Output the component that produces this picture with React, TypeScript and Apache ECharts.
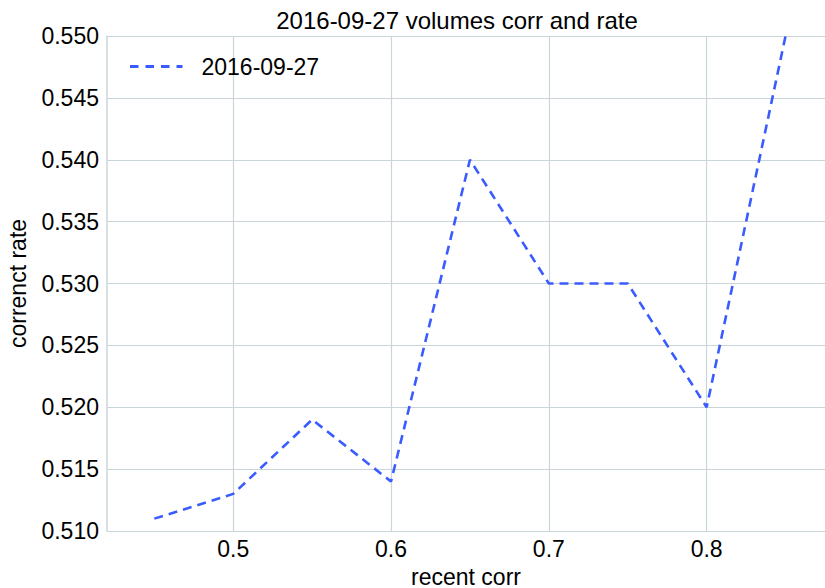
import React, { useEffect, useRef } from "react";
import * as echarts from "echarts";

const xValues = [0.45, 0.5, 0.55, 0.6, 0.65, 0.7, 0.75, 0.8, 0.85];
const rateValues = [0.511, 0.513, 0.519, 0.514, 0.54, 0.53, 0.53, 0.52, 0.55];
const xTicks = [0.5, 0.6, 0.7, 0.8];
const seriesName = "2016-09-27";
const titleText = "2016-09-27 volumes corr and rate";

const FONT = "Liberation Sans, Arial, Helvetica, sans-serif";
const GRID_COLOR = "#cad5da";
const LINE_COLOR = "#3a5cff";
const LEGEND_ICON =
  "path://M0,0h8.5v3h-8.5z M15.5,0h8.5v3h-8.5z M31,0h8.5v3h-8.5z M46.5,0h6v3h-6z";

export default function App() {
  const ref = useRef<HTMLDivElement>(null);
  useEffect(() => {
    if (!ref.current) return;
    const chart = echarts.init(ref.current, undefined, { renderer: "svg" });
    chart.setOption({
      animation: false,
      backgroundColor: "#ffffff",
      textStyle: { fontFamily: FONT },
      title: {
        text: titleText,
        left: 457,
        textAlign: "center",
        top: 8,
        padding: 0,
        textStyle: { fontFamily: FONT, fontSize: 24, fontWeight: "normal", color: "#000" },
      },
      legend: {
        left: 130,
        top: 55,
        padding: 0,
        itemWidth: 52.5,
        itemHeight: 3,
        data: [{ name: seriesName, icon: LEGEND_ICON }],
        itemStyle: { color: LINE_COLOR },
        textStyle: { fontFamily: FONT, fontSize: 23, color: "#000", padding: [0, 0, 0, 14] },
      },
      grid: {
        left: 107,
        right: 0,
        top: 36,
        bottom: 57,
        show: false,
        containLabel: false,
        outerBoundsMode: "none",
      },
      xAxis: {
        type: "value",
        min: 0.42,
        max: 0.875,
        name: "recent corr",
        nameLocation: "middle",
        nameGap: 34,
        nameTextStyle: { fontFamily: FONT, fontSize: 23, color: "#000" },
        axisLine: { show: false },
        axisTick: { show: false, customValues: xTicks },
        axisLabel: {
          customValues: xTicks,
          margin: 6,
          fontFamily: FONT,
          fontSize: 23,
          color: "#000",
          formatter: (v: number) => String(Math.round(v * 10) / 10),
        },
        splitLine: { show: true, lineStyle: { color: GRID_COLOR, width: 1.2 } },
      },
      yAxis: {
        type: "value",
        min: 0.51,
        max: 0.55,
        interval: 0.005,
        name: "correnct rate",
        nameLocation: "middle",
        nameGap: 78,
        nameTextStyle: { fontFamily: FONT, fontSize: 23, color: "#000" },
        axisLine: { show: true, lineStyle: { color: GRID_COLOR, width: 1.5 } },
        axisTick: { show: false },
        axisLabel: {
          margin: 8,
          fontFamily: FONT,
          fontSize: 23,
          color: "#000",
          formatter: (v: number) => v.toFixed(3),
        },
        splitLine: { show: true, lineStyle: { color: GRID_COLOR, width: 1.2 } },
      },
      series: [
        {
          name: seriesName,
          type: "line",
          data: xValues.map((x, i) => [x, rateValues[i]]),
          symbol: "none",
          lineStyle: { color: LINE_COLOR, width: 2.6, type: [9, 6] },
          itemStyle: { color: LINE_COLOR },
        },
      ],
    });
    return () => chart.dispose();
  }, []);
  return (
    <div
      ref={ref}
      style={{ position: "fixed", left: 0, top: 0, width: 825, height: 588 }}
    />
  );
}
